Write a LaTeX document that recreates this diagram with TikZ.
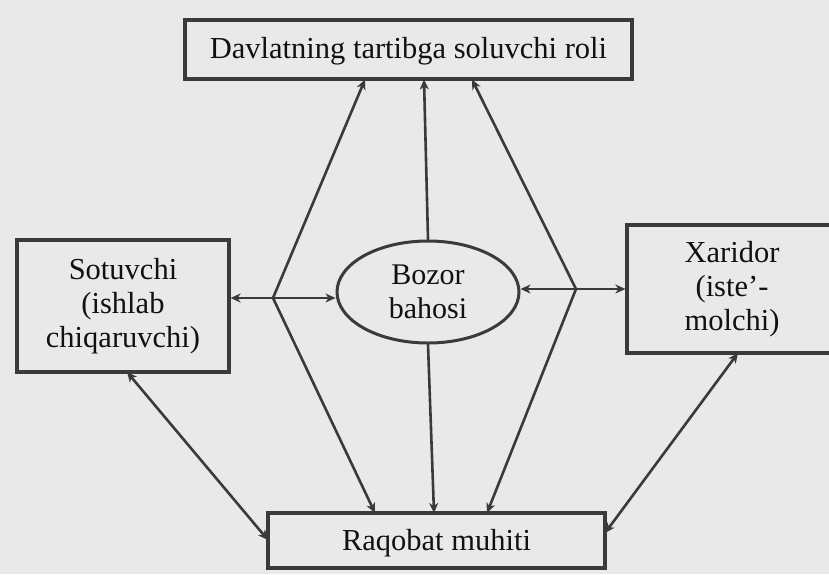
\documentclass[tikz,border=0pt]{standalone}
\usepackage{fontspec}
\setmainfont{Liberation Serif}
\usetikzlibrary{arrows.meta,shapes.geometric,calc}
\definecolor{paper}{HTML}{E9E9E9}
\definecolor{ink}{HTML}{3A3A3A}
\definecolor{txt}{HTML}{111111}
\tikzset{
  box/.style={draw=ink, line width=3.2pt, rectangle, inner sep=0pt, text=txt, align=center,
    font=\fontsize{30.5}{34}\selectfont},
  oval/.style={draw=ink, line width=3pt, ellipse, inner sep=0pt, text=txt, align=center,
    font=\fontsize{30}{34}\selectfont},
  conn/.style={draw=ink, line width=2.6pt, line cap=round},
  tip/.style={-{Stealth[length=10pt,width=9pt,inset=3pt]}},
  tips/.style={{Stealth[length=10pt,width=9pt,inset=3pt]}-{Stealth[length=10pt,width=9pt,inset=3pt]}}
}
\begin{document}
\begin{tikzpicture}[x=1pt,y=-1pt]
\useasboundingbox (0,0) rectangle (829,574);
\fill[paper] (0,0) rectangle (829,574);

\node[box, minimum width=447pt, minimum height=59pt, text depth=3pt] (top) at (408.5,49.5) {Davlatning tartibga soluvchi roli};
\node[box, minimum width=212pt, minimum height=132pt] (sot) at (123,306) {Sotuvchi\\(ishlab\\chiqaruvchi)};
\node[oval, minimum width=182pt, minimum height=102pt] (ell) at (428,292) {Bozor\\bahosi};
\node[box, minimum width=210pt, minimum height=128pt] (xar) at (732,289) {Xaridor\\(iste’-\\molchi)};
\node[box, minimum width=337pt, minimum height=55pt, text depth=2pt] (bot) at (436.5,540.5) {Raqobat muhiti};

% junction points on the horizontal connectors
\coordinate (L) at (273,298);
\coordinate (R) at (576,289);
% arrow ends on the top box
\coordinate (t1) at (365,79.5);
\coordinate (t2) at (424,79.5);
\coordinate (t3) at (472,79.5);
% arrow ends on the bottom box
\coordinate (b1) at (375,513);
\coordinate (b2) at (434,513);
\coordinate (b3) at (487,513);
% side arrow ends
\coordinate (sb) at (127,372);
\coordinate (bl) at (268,540);
\coordinate (xb) at (738,353);
\coordinate (br) at (605,533);

\draw[conn,tips] (sot.east |- L) -- (ell.west |- L);
\draw[conn,tips] (ell.east |- R) -- (xar.west |- R);

\draw[conn,tip] (L) -- (t1);
\draw[conn,tip] (L) -- (b1);
\draw[conn,tip] (R) -- (t3);
\draw[conn,tip] (R) -- (b3);
\draw[conn,tip] (ell.north) -- (t2);
\draw[conn,tip] (ell.south) -- (b2);

\draw[conn,tips] (sb) -- (bl);
\draw[conn,tips] (xb) -- (br);
\end{tikzpicture}
\end{document}
